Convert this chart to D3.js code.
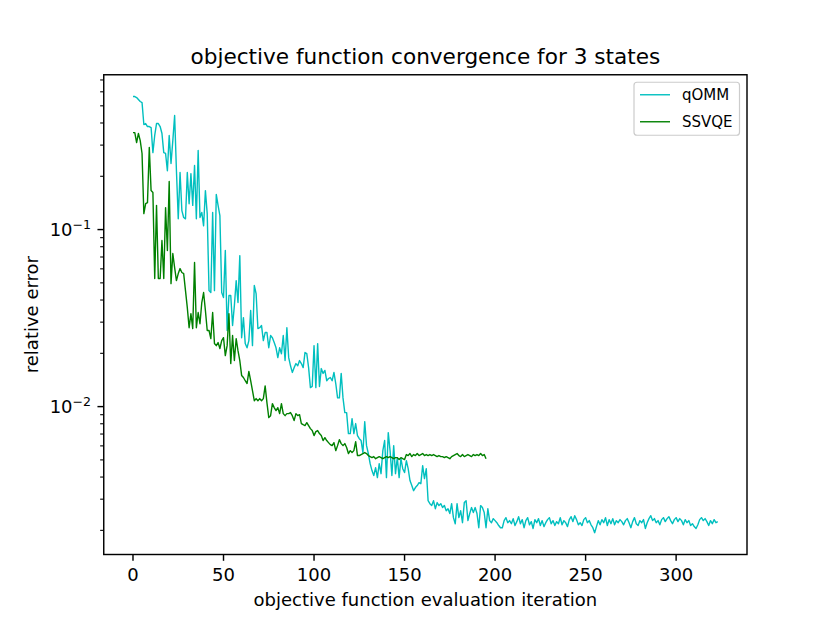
<!DOCTYPE html>
<html>
<head>
<meta charset="utf-8">
<script src="https://cdn.jsdelivr.net/npm/d3@7/dist/d3.min.js"></script>
<style>
    body { margin: 0; background: #fff; }
    text { font-family: 'DejaVu Sans', sans-serif; fill: #000; }
</style>
</head>
<body>
<div id="chart"></div>
<script>
// relative error per objective function evaluation (index = iteration)
const qommError = [
    0.564, 0.564, 0.557, 0.543, 0.529, 0.522, 0.392, 0.397, 0.382, 0.382,
    0.377, 0.272, 0.340, 0.397, 0.397, 0.382, 0.349, 0.272, 0.269, 0.215,
    0.340, 0.236, 0.318, 0.441, 0.215, 0.115, 0.210, 0.128, 0.117, 0.115,
    0.210, 0.140, 0.207, 0.137, 0.230, 0.115, 0.280, 0.117, 0.125, 0.105,
    0.166, 0.123, 0.0452, 0.0441, 0.125, 0.0452, 0.158, 0.137, 0.120, 0.0441,
    0.0413, 0.0761, 0.0269, 0.0424, 0.0424, 0.0287, 0.0372, 0.0515, 0.0387, 0.0713,
    0.0245, 0.0318, 0.0227, 0.0215, 0.0236, 0.0349, 0.0221, 0.0483, 0.0435, 0.0276,
    0.0279, 0.0287, 0.0236, 0.0262, 0.0262, 0.0215, 0.0252, 0.0245, 0.0230, 0.0215,
    0.0189, 0.0215, 0.0199, 0.0252, 0.0182, 0.0279, 0.0189, 0.0170, 0.0156, 0.0166,
    0.0175, 0.0170, 0.0182, 0.0175, 0.0166, 0.0202, 0.0199, 0.0166, 0.0128, 0.0130,
    0.0221, 0.0128, 0.0227, 0.0130, 0.0164, 0.0154, 0.0160, 0.0140, 0.0144, 0.0146,
    0.0140, 0.0156, 0.0135, 0.0112, 0.0112, 0.0154, 0.0112, 0.00925, 0.00925, 0.00704,
    0.00704, 0.00855, 0.00704, 0.00802, 0.00686, 0.00659, 0.00643, 0.00550, 0.00823, 0.00602,
    0.00543, 0.00476, 0.00435, 0.00408, 0.00452, 0.00397, 0.00476, 0.00418, 0.00564, 0.00643,
    0.00397, 0.00713, 0.00564, 0.00408, 0.00602, 0.00418, 0.00515, 0.00397, 0.00508, 0.00446,
    0.00424, 0.00495, 0.00446, 0.00382, 0.00358, 0.00335, 0.00349, 0.00358, 0.00372, 0.00367,
    0.00464, 0.00392, 0.00446, 0.00294, 0.00283, 0.00276, 0.00294, 0.00265, 0.00287, 0.00276,
    0.00283, 0.00269, 0.00276, 0.00258, 0.00265, 0.00249, 0.00283, 0.00236, 0.00218, 0.00283,
    0.00236, 0.00258, 0.00221, 0.00287, 0.00294, 0.00227, 0.00249, 0.00269, 0.00252, 0.00269,
    0.00249, 0.00207, 0.00276, 0.00269, 0.00252, 0.00207, 0.00265, 0.00227, 0.00221, 0.00233,
    0.00227, 0.00221, 0.00213, 0.00207, 0.00207, 0.00227, 0.00236, 0.00221, 0.00227, 0.00218,
    0.00233, 0.00213, 0.00224, 0.00239, 0.00218, 0.00230, 0.00207, 0.00227, 0.00236, 0.00215,
    0.00224, 0.00205, 0.00230, 0.00221, 0.00233, 0.00213, 0.00227, 0.00210, 0.00221, 0.00230,
    0.00236, 0.00218, 0.00227, 0.00213, 0.00224, 0.00218, 0.00236, 0.00215, 0.00227, 0.00221,
    0.00210, 0.00230, 0.00239, 0.00224, 0.00242, 0.00230, 0.00215, 0.00221, 0.00213, 0.00230,
    0.00236, 0.00221, 0.00227, 0.00215, 0.00207, 0.00194, 0.00210, 0.00227, 0.00215, 0.00230,
    0.00221, 0.00236, 0.00213, 0.00230, 0.00218, 0.00233, 0.00215, 0.00227, 0.00221, 0.00230,
    0.00224, 0.00215, 0.00227, 0.00233, 0.00221, 0.00207, 0.00224, 0.00236, 0.00218, 0.00213,
    0.00227, 0.00221, 0.00230, 0.00205, 0.00221, 0.00233, 0.00242, 0.00227, 0.00233, 0.00221,
    0.00227, 0.00215, 0.00230, 0.00236, 0.00224, 0.00233, 0.00239, 0.00227, 0.00218, 0.00230,
    0.00236, 0.00224, 0.00233, 0.00227, 0.00215, 0.00230, 0.00221, 0.00227, 0.00213, 0.00218,
    0.00210, 0.00205, 0.00215, 0.00230, 0.00236, 0.00227, 0.00233, 0.00224, 0.00213, 0.00227,
    0.00218, 0.00230, 0.00221, 0.00224
];

const ssvqeError = [
    0.353, 0.353, 0.310, 0.349, 0.318, 0.269, 0.123, 0.140, 0.142, 0.291,
    0.166, 0.162, 0.0529, 0.137, 0.0529, 0.0529, 0.0867, 0.0529, 0.133, 0.0761,
    0.187, 0.0495, 0.0732, 0.0610, 0.0515, 0.0564, 0.0602, 0.0572, 0.0564, 0.0452,
    0.0362, 0.0279, 0.0335, 0.0276, 0.0651, 0.0279, 0.0340, 0.0294, 0.0387, 0.0441,
    0.0349, 0.0269, 0.0269, 0.0242, 0.0340, 0.0227, 0.0221, 0.0230, 0.0213, 0.0236,
    0.0245, 0.0194, 0.0221, 0.0335, 0.0175, 0.0252, 0.0182, 0.0242, 0.0207, 0.0182,
    0.0150, 0.0146, 0.0140, 0.0135, 0.0158, 0.0140, 0.0123, 0.0108, 0.0111, 0.0108,
    0.0111, 0.0108, 0.0111, 0.0131, 0.0105, 0.00867, 0.00889, 0.0104, 0.00987, 0.00949,
    0.00987, 0.00913, 0.0104, 0.00913, 0.00889, 0.00913, 0.00913, 0.00925, 0.00889, 0.00834,
    0.00913, 0.00889, 0.00901, 0.00802, 0.00791, 0.00781, 0.00812, 0.00781, 0.00751, 0.00732,
    0.00686, 0.00722, 0.00732, 0.00704, 0.00686, 0.00643, 0.00668, 0.00643, 0.00626, 0.00610,
    0.00602, 0.00626, 0.00564, 0.00602, 0.00651, 0.00618, 0.00602, 0.00618, 0.00587, 0.00543,
    0.00564, 0.00550, 0.00564, 0.00634, 0.00529, 0.00529, 0.00536, 0.00543, 0.00550, 0.00543,
    0.00529, 0.00522, 0.00515, 0.00522, 0.00508, 0.00515, 0.00522, 0.00515, 0.00508, 0.00515,
    0.00522, 0.00515, 0.00522, 0.00515, 0.00508, 0.00515, 0.00515, 0.00502, 0.00515, 0.00508,
    0.00502, 0.00536, 0.00529, 0.00543, 0.00522, 0.00536, 0.00529, 0.00543, 0.00529, 0.00536,
    0.00543, 0.00529, 0.00536, 0.00529, 0.00536, 0.00529, 0.00536, 0.00529, 0.00522, 0.00529,
    0.00522, 0.00522, 0.00515, 0.00522, 0.00515, 0.00508, 0.00522, 0.00529, 0.00536, 0.00543,
    0.00529, 0.00522, 0.00536, 0.00522, 0.00529, 0.00536, 0.00529, 0.00522, 0.00536, 0.00529,
    0.00536, 0.00529, 0.00543, 0.00529, 0.00536, 0.00508
];

const seriesNames = ['qOMM', 'SSVQE'];
const seriesColors = ['#00bfbf', '#008000'];
const xTicks = [0, 50, 100, 150, 200, 250, 300];
const yTickExponents = [-2, -1];

const chartTitle = 'objective function convergence for 3 states';
const xLabel = 'objective function evaluation iteration';
const yLabel = 'relative error';

// --- layout (matplotlib-like defaults, 130 dpi) ---
const W = 830, H = 623;
const plot = { left: 103.75, right: 747, top: 74.76, bottom: 554.5 };

const svg = d3.select('#chart').append('svg')
    .attr('width', W)
    .attr('height', H);

const series = [qommError, ssvqeError];
const maxLen = d3.max(series, s => s.length) - 1;

// 5% margins like matplotlib autoscale
const x = d3.scaleLinear()
    .domain([-0.05 * maxLen, maxLen * 1.05])
    .range([plot.left, plot.right]);

const allVals = series.flat();
const lo = Math.log10(d3.min(allVals));
const hi = Math.log10(d3.max(allVals));
const pad = (hi - lo) * 0.05;
const y = d3.scaleLog()
    .domain([Math.pow(10, lo - pad), Math.pow(10, hi + pad)])
    .range([plot.bottom, plot.top]);

// lines
const line = d3.line()
    .x((d, i) => x(i))
    .y(d => y(d));

series.forEach((s, k) => {
    svg.append('path')
        .datum(s)
        .attr('d', line)
        .attr('fill', 'none')
        .attr('stroke', seriesColors[k])
        .attr('stroke-width', 1.4)
        .attr('stroke-linejoin', 'round');
});

// frame
svg.append('rect')
    .attr('x', plot.left)
    .attr('y', plot.top)
    .attr('width', plot.right - plot.left)
    .attr('height', plot.bottom - plot.top)
    .attr('fill', 'none')
    .attr('stroke', '#000')
    .attr('stroke-width', 1.44);

// x ticks
const xAxisG = svg.append('g');
xTicks.forEach(t => {
    const tx = x(t);
    xAxisG.append('line')
        .attr('x1', tx).attr('x2', tx)
        .attr('y1', plot.bottom).attr('y2', plot.bottom + 6.3)
        .attr('stroke', '#000').attr('stroke-width', 1.44);
    xAxisG.append('text')
        .attr('x', tx)
        .attr('y', plot.bottom + 26)
        .attr('text-anchor', 'middle')
        .attr('font-size', '18px')
        .text(t);
});

// y ticks: minor (2..9 per decade) then major
const yAxisG = svg.append('g');
const [dMin, dMax] = y.domain();
y.ticks().filter(t => t >= dMin && t <= dMax).forEach(t => {
    const isMajor = Math.abs(Math.log10(t) - Math.round(Math.log10(t))) < 1e-9;
    if (isMajor) return;
    yAxisG.append('line')
        .attr('x1', plot.left - 3.6).attr('x2', plot.left)
        .attr('y1', y(t)).attr('y2', y(t))
        .attr('stroke', '#000').attr('stroke-width', 1.08);
});

yTickExponents.forEach(e => {
    const ty = y(Math.pow(10, e));
    yAxisG.append('line')
        .attr('x1', plot.left - 6.3).attr('x2', plot.left)
        .attr('y1', ty).attr('y2', ty)
        .attr('stroke', '#000').attr('stroke-width', 1.44);
    const label = yAxisG.append('text')
        .attr('x', plot.left - 12.6)
        .attr('y', ty + 6.5)
        .attr('text-anchor', 'end')
        .attr('font-size', '18px');
    label.append('tspan').text('10');
    label.append('tspan')
        .attr('dy', -7.5)
        .attr('font-size', '12.6px')
        .text('\u2212' + Math.abs(e));
});

// title and axis labels
svg.append('text')
    .attr('x', (plot.left + plot.right) / 2)
    .attr('y', plot.top - 11)
    .attr('text-anchor', 'middle')
    .attr('font-size', '21.6px')
    .text(chartTitle);

svg.append('text')
    .attr('x', (plot.left + plot.right) / 2)
    .attr('y', 606)
    .attr('text-anchor', 'middle')
    .attr('font-size', '18px')
    .text(xLabel);

svg.append('text')
    .attr('transform', `translate(38, ${(plot.top + plot.bottom) / 2}) rotate(-90)`)
    .attr('text-anchor', 'middle')
    .attr('font-size', '18px')
    .text(yLabel);

// legend (upper right)
const fs = 15;
const legW = 105.5, legH = 53;
const legX = plot.right - 7.5 - legW;
const legY = plot.top + 7.5;
const legG = svg.append('g');
legG.append('rect')
    .attr('x', legX).attr('y', legY)
    .attr('width', legW).attr('height', legH)
    .attr('rx', 3)
    .attr('fill', '#fff').attr('fill-opacity', 0.8)
    .attr('stroke', '#cccccc').attr('stroke-width', 1.2);

seriesNames.forEach((name, k) => {
    const cy = legY + 12.5 + k * 27;
    legG.append('line')
        .attr('x1', legX + 0.4 * fs).attr('x2', legX + 2.4 * fs)
        .attr('y1', cy).attr('y2', cy)
        .attr('stroke', seriesColors[k])
        .attr('stroke-width', 1.4);
    legG.append('text')
        .attr('x', legX + 3.2 * fs)
        .attr('y', cy + 5.3)
        .attr('font-size', fs + 'px')
        .text(name);
});
</script>
</body>
</html>
